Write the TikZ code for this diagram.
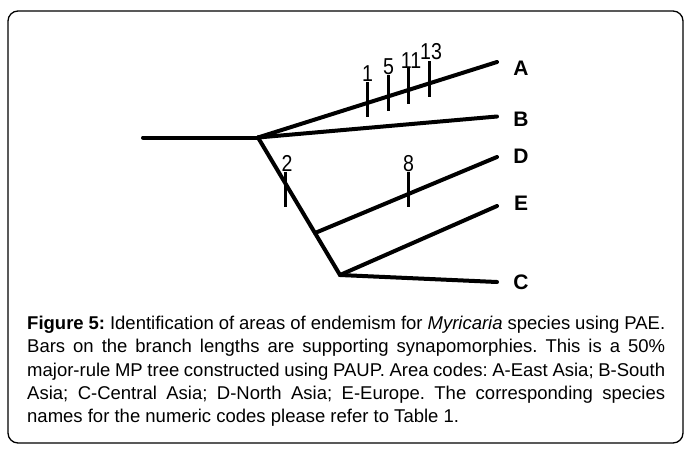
\documentclass[tikz,border=0pt]{standalone}
\usepackage{fontspec}
\setmainfont{Liberation Sans}
\begin{document}
\begin{tikzpicture}[x=1pt,y=-1pt,
  branch/.style={line width=4pt,line cap=round,line join=round},
  synbar/.style={line width=2.6pt},
  tiplabel/.style={font=\fontsize{21}{21}\selectfont\bfseries,inner sep=0pt},
  numlabel/.style={font=\fontsize{23}{23}\selectfont,inner sep=0pt,xscale=0.85},
  frame/.style={draw,line width=1.3pt,rounded corners=10pt}]
\useasboundingbox (0,0) rectangle (691,453);
\draw[frame] (8,11) rectangle (683,443);
% tree nodes
\coordinate (root) at (143,137.5);
\coordinate (n1) at (258,137.5);
\coordinate (n2) at (340,275);
\coordinate (n3) at (315,233);
\coordinate (tA) at (497,62);
\coordinate (tB) at (497,116.5);
\coordinate (tD) at (497,157);
\coordinate (tE) at (497,206);
\coordinate (tC) at (497,282);
% branches
\draw[branch] (root) -- (n1);
\draw[branch] (n1) -- (tA);
\draw[branch] (n1) -- (tB);
\draw[branch] (n1) -- (n2);
\draw[branch] (n3) -- (tD);
\draw[branch] (n2) -- (tE);
\draw[branch] (n2) -- (tC);
% tip labels
\node[tiplabel] (lA) at (521,68) {A};
\node[tiplabel] (lB) at (521,119) {B};
\node[tiplabel] (lD) at (521,156) {D};
\node[tiplabel] (lE) at (521,203) {E};
\node[tiplabel] (lC) at (521,282) {C};
% synapomorphy bars
\coordinate (b1t) at (367.5,82); \coordinate (b1b) at (367.5,117);
\coordinate (b5t) at (388.5,75); \coordinate (b5b) at (388.5,111);
\coordinate (b11t) at (408.5,68); \coordinate (b11b) at (408.5,103.5);
\coordinate (b13t) at (429.5,61); \coordinate (b13b) at (429.5,97);
\coordinate (b2t) at (285.5,171.5); \coordinate (b2b) at (285.5,207);
\coordinate (b8t) at (408.5,171.5); \coordinate (b8b) at (408.5,207);
\draw[synbar] (b1t) -- (b1b);
\draw[synbar] (b5t) -- (b5b);
\draw[synbar] (b11t) -- (b11b);
\draw[synbar] (b13t) -- (b13b);
\draw[synbar] (b2t) -- (b2b);
\draw[synbar] (b8t) -- (b8b);
% numeric labels
\node[numlabel,anchor=south] (n1l) at (b1t) {1};
\node[numlabel,anchor=south] (n5l) at (b5t) {5};
\node[numlabel,anchor=south] (n11l) at (411,69) {11};
\node[numlabel,anchor=south] (n13l) at (431,60) {13};
\node[numlabel,anchor=south] (n2l) at (287,171.5) {2};
\node[numlabel,anchor=south] (n8l) at (b8t) {8};
% caption
\node[anchor=north west,inner sep=0pt,text width=638pt,align=justify,
  font=\fontsize{18.5}{23.3}\selectfont] (cap) at (27,316)
  {\frenchspacing\hyphenpenalty=10000 \textbf{Figure 5:} Identification of areas of endemism for \textit{Myricaria} species using PAE.\linebreak
  Bars on the branch lengths are supporting synapomorphies. This is a 50\%\linebreak
  major-rule MP tree constructed using PAUP. Area codes: A-East Asia; B-South\linebreak
  Asia; C-Central Asia; D-North Asia; E-Europe. The corresponding species\linebreak
  names for the numeric codes please refer to Table 1.};
\end{tikzpicture}
\end{document}
